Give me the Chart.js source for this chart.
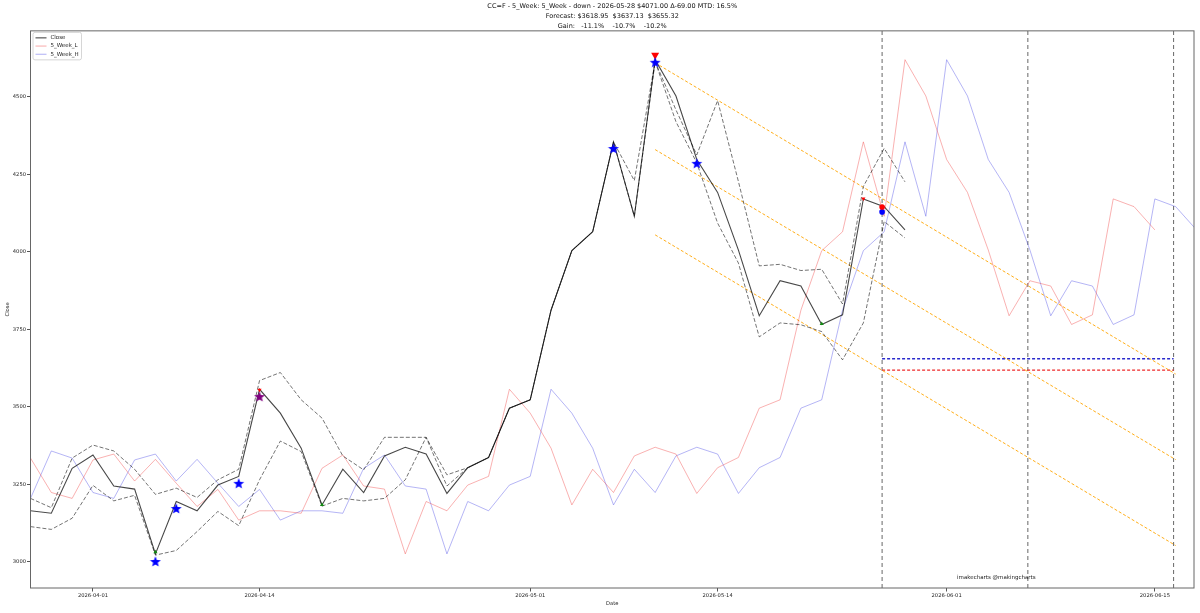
<!DOCTYPE html>
<html>
<head>
<meta charset="utf-8">
<script src="https://cdn.jsdelivr.net/npm/chart.js@4"></script>
<style>
  html, body { margin: 0; padding: 0; background: #fff; }
  canvas { display: block; }
</style>
</head>
<body>
<canvas id="chart" width="1200" height="613"></canvas>
<script>
// trading-day index 0 = 2026-03-27
const closeVals = [3165,3157,3302,3345,3245,3235,3026,3195,3165,3248,3276,3557,3480,3367,3184,3299,3224,3342,3370,3348,3221,3304,3337,3496,3523,3812,4004,4065,4355,4115,4620,4503,4298,4192,4006,3794,3907,3890,3766,3797,4171,4146,4071];
const week5L = [3335,3224,3205,3329,3348,3261,3331,3254,3179,3234,3135,3165,3165,3157,3302,3345,3245,3235,3026,3195,3165,3248,3276,3557,3480,3367,3184,3299,3224,3342,3370,3348,3221,3304,3337,3496,3523,3812,4004,4065,4355,4115,4620,4503,4298,4192,4006,3794,3907,3890,3766,3797,4171,4146,4071];
const week5H = [3205,3358,3335,3224,3205,3329,3348,3261,3331,3254,3179,3234,3135,3165,3165,3157,3302,3345,3245,3235,3026,3195,3165,3248,3276,3557,3480,3367,3184,3299,3224,3342,3370,3348,3221,3304,3337,3496,3523,3812,4004,4065,4355,4115,4620,4503,4298,4192,4006,3794,3907,3890,3766,3797,4171,4146,4071];
const upperBand = [3205,3175,3335,3377,3358,3299,3218,3238,3208,3265,3299,3585,3611,3523,3464,3342,3297,3402,3402,3402,3281,3304,3337,3496,3523,3812,4004,4065,4355,4230,4614,4458,4313,4488,4227,3955,3960,3940,3944,3832,4211,4334,4226];
const lowerBand = [3114,3105,3141,3247,3197,3215,3022,3037,3098,3163,3117,3265,3390,3356,3180,3205,3197,3205,3265,3402,3245,3304,3337,3496,3523,3812,4004,4065,4355,4115,4614,4420,4287,4093,3964,3726,3771,3765,3743,3652,3771,4098,4045];

// markers
const starX = [6, 7, 10, 28, 30, 32];
const starY = [3000, 3171, 3252, 4332, 4610, 4284];
const purpleStarX = [11];
const purpleStarY = [3532];
const bigDownX = [30];
const bigDownY = [4635];
const smallDownX = [11, 40];
const smallDownY = [3555, 4172];
const smallUpX = [6, 14, 38];
const smallUpY = [3032, 3184, 3768];
const redDotX = [40.9], redDotY = [4145];
const blueDotX = [40.9], blueDotY = [4129];

// channel + forecast
const channelX = [30, 55];
const channelTop = [4610, 3606];
const channelMid = [4330, 3330];
const channelLow = [4055, 3053];
const forecastX = [40.9, 54.9];
const forecastHigh = 3655.32;
const forecastLow = 3618.95;
const vLineX = [40.9, 47.9, 54.9];

const xTickPos = [3, 11, 24, 33, 44, 54];
const xTickLabels = ['2026-04-01', '2026-04-14', '2026-05-01', '2026-05-14', '2026-06-01', '2026-06-15'];
const yTickVals = [3000, 3250, 3500, 3750, 4000, 4250, 4500];
const yMin = 2916, yMax = 4713;

const titleLines = [
  'CC=F - 5_Week: 5_Week - down - 2026-05-28 $4071.00 \u0394-69.00 MTD: 16.5%',
  'Forecast: $3618.95  $3637.13  $3655.32',
  'Gain:   -11.1%    -10.7%    -10.2%'
];

const FONT = 'DejaVu Sans';
const closeColor = 'rgba(0,0,0,0.72)';
const lowColor = 'rgba(240,70,70,0.42)';
const highColor = 'rgba(70,70,230,0.4)';

const pts = (vals, start) => vals.map((v, i) => ({ x: start + i, y: v }));
const pairs = (xs, ys) => xs.map((x, i) => ({ x: x, y: ys[i] }));

function makeStar(color, size) {
  const c = document.createElement('canvas');
  c.width = size; c.height = size;
  const g = c.getContext('2d');
  const R = size / 2 - 0.3, r = R * 0.42;
  g.beginPath();
  for (let k = 0; k < 10; k++) {
    const a = -Math.PI / 2 + k * Math.PI / 5;
    const rr = k % 2 === 0 ? R : r;
    g.lineTo(size / 2 + rr * Math.cos(a), size / 2 + rr * Math.sin(a));
  }
  g.closePath();
  g.fillStyle = color;
  g.fill();
  return c;
}

const markerSet = (label, data, color, style, radius, rotation) => ({
  label, data, showLine: false,
  pointStyle: style, pointRadius: radius, rotation: rotation || 0,
  pointBackgroundColor: color, pointBorderColor: color, pointBorderWidth: 0
});
const lineSet = (label, data, color, width, dash) => ({
  label, data, borderColor: color, borderWidth: width, borderDash: dash || [],
  pointRadius: 0, tension: 0, fill: false
});

const datasets = [
  markerSet('stars', pairs(starX, starY), 'blue', makeStar('#0000ff', 12), 5),
  markerSet('purple', pairs(purpleStarX, purpleStarY), 'purple', makeStar('#800080', 12), 5),
  markerSet('bigDown', pairs(bigDownX, bigDownY), '#ff0000', 'triangle', 4.6, 180),
  markerSet('smallDown', pairs(smallDownX, smallDownY), '#ff0000', 'triangle', 2.4, 180),
  markerSet('smallUp', pairs(smallUpX, smallUpY), '#118811', 'triangle', 2.4, 0),
  markerSet('redDot', pairs(redDotX, redDotY), '#ff0000', 'circle', 2.8),
  markerSet('blueDot', pairs(blueDotX, blueDotY), '#0000ff', 'circle', 2.8),
  lineSet('Close', pts(closeVals, 0), closeColor, 1.1),
  lineSet('upper', pts(upperBand, 0), 'rgba(0,0,0,0.55)', 1, [4, 2]),
  lineSet('lower', pts(lowerBand, 0), 'rgba(0,0,0,0.55)', 1, [4, 2]),
  lineSet('5_Week_L', pts(week5L, 0), lowColor, 1),
  lineSet('5_Week_H', pts(week5H, 0), highColor, 1),
  lineSet('chTop', pairs(channelX, channelTop), 'rgba(255,165,0,0.9)', 1, [3, 2]),
  lineSet('chMid', pairs(channelX, channelMid), 'rgba(255,165,0,0.9)', 1, [3, 2]),
  lineSet('chLow', pairs(channelX, channelLow), 'rgba(255,165,0,0.9)', 1, [3, 2]),
  lineSet('fHigh', pairs(forecastX, [forecastHigh, forecastHigh]), '#2a2acc', 1.5, [3, 2]),
  lineSet('fLow', pairs(forecastX, [forecastLow, forecastLow]), '#ee2a2a', 1.2, [3, 2])
];
vLineX.forEach(v => datasets.push(lineSet('v' + v, pairs([v, v], [yMin, yMax]), 'rgba(0,0,0,0.6)', 1, [4, 3])));

const legendItems = [
  { label: 'Close', color: closeColor },
  { label: '5_Week_L', color: lowColor },
  { label: '5_Week_H', color: highColor }
];

const overlay = {
  id: 'overlay',
  afterDraw(chart) {
    const { ctx, chartArea: a } = chart;
    ctx.save();
    ctx.strokeStyle = '#666';
    ctx.lineWidth = 1;
    ctx.setLineDash([]);
    ctx.strokeRect(a.left, a.top, a.right - a.left, a.bottom - a.top);

    // legend box
    const bx = a.left + 2.5, by = a.top + 1.5, bw = 48.5, bh = 27.5;
    ctx.fillStyle = 'rgba(255,255,255,0.85)';
    ctx.strokeStyle = '#cccccc';
    ctx.lineWidth = 0.8;
    ctx.beginPath();
    ctx.roundRect(bx, by, bw, bh, 2);
    ctx.fill();
    ctx.stroke();
    ctx.font = '5.5px "' + FONT + '"';
    ctx.textBaseline = 'middle';
    ctx.textAlign = 'left';
    legendItems.forEach((it, i) => {
      const yy = by + 5.5 + i * 8.2;
      ctx.strokeStyle = it.color;
      ctx.lineWidth = 1.1;
      ctx.beginPath();
      ctx.moveTo(bx + 2.5, yy);
      ctx.lineTo(bx + 13.5, yy);
      ctx.stroke();
      ctx.fillStyle = '#222';
      ctx.fillText(it.label, bx + 17.5, yy);
    });

    ctx.fillStyle = '#222';
    ctx.fillText('imakecharts @makingcharts', a.right - 237, a.bottom - 10);
    ctx.restore();
  }
};

const tickFont = { family: FONT, size: 5.2 };

new Chart(document.getElementById('chart').getContext('2d'), {
  type: 'line',
  data: { datasets },
  plugins: [overlay],
  options: {
    responsive: false,
    animation: false,
    events: [],
    layout: { padding: { left: 0, right: 6, top: 0, bottom: 0 } },
    plugins: {
      legend: { display: false },
      tooltip: { enabled: false },
      title: {
        display: true,
        text: titleLines,
        fullSize: false,
        color: '#111',
        font: { family: FONT, size: 6.5, weight: 'normal', lineHeight: 1.48 },
        padding: { top: 2, bottom: 0 }
      }
    },
    scales: {
      x: {
        type: 'linear',
        min: 0,
        max: 55.88,
        afterBuildTicks: s => { s.ticks = xTickPos.map(v => ({ value: v })); },
        afterFit: s => { s.height = 25; },
        ticks: {
          autoSkip: false, maxRotation: 0, padding: 1.5, color: '#222', font: tickFont,
          callback: (v, i) => xTickLabels[i]
        },
        grid: { drawOnChartArea: false, tickLength: 3.5, tickColor: '#555' },
        border: { display: false },
        title: { display: true, text: 'Date', color: '#222', font: tickFont, padding: { top: 0, bottom: 6 } }
      },
      y: {
        min: yMin,
        max: yMax,
        afterBuildTicks: s => { s.ticks = yTickVals.map(v => ({ value: v })); },
        afterFit: s => { s.width = 30.5; },
        ticks: { padding: 1, color: '#222', font: tickFont, callback: v => String(v) },
        grid: { drawOnChartArea: false, tickLength: 3.5, tickColor: '#555' },
        border: { display: false },
        title: { display: true, text: 'Close', color: '#222', font: tickFont, padding: { top: 5, bottom: 0 } }
      }
    }
  }
});
</script>
</body>
</html>
